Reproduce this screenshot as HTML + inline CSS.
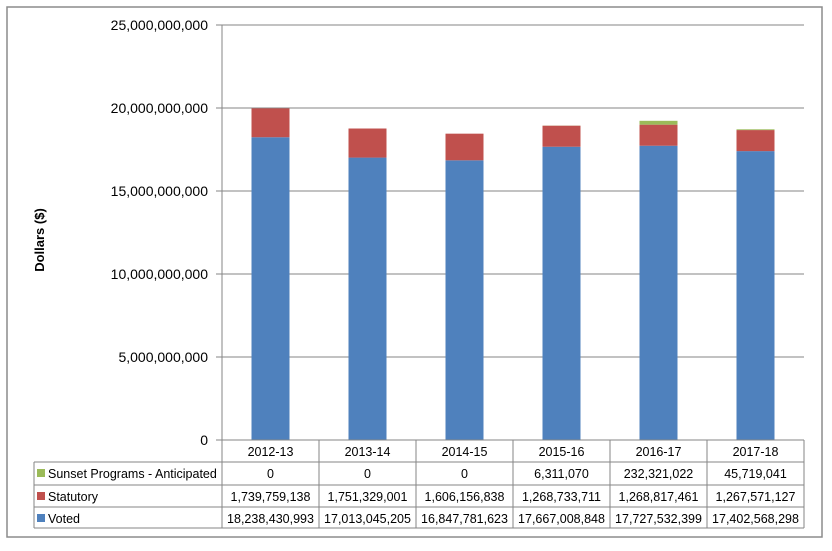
<!DOCTYPE html>
<html><head><meta charset="utf-8"><style>
body{margin:0;background:#fff;}
svg text{font-family:"Liberation Sans",sans-serif;}
</style></head><body>
<svg id="c" width="832" height="546" xmlns="http://www.w3.org/2000/svg">
<rect x="7" y="7" width="815" height="530" fill="#fff" stroke="#8c8c8c" stroke-width="1.5"/>
<text transform="translate(44,240) rotate(-90)" text-anchor="middle" font-size="13" font-weight="bold">Dollars ($)</text>
<g id="grid"></g><g id="bars"></g><g id="tbl"></g>
</svg>
<script>
const categories=["2012-13","2013-14","2014-15","2015-16","2016-17","2017-18"];
const sunset=[0,0,0,6311070,232321022,45719041];
const statutory=[1739759138,1751329001,1606156838,1268733711,1268817461,1267571127];
const voted=[18238430993,17013045205,16847781623,17667008848,17727532399,17402568298];
const yTicks=[0,5000000000,10000000000,15000000000,20000000000,25000000000];
const seriesNames=["Sunset Programs - Anticipated","Statutory","Voted"];
const colors=["#9bbb59","#c0504d","#4f81bd"];
const NS="http://www.w3.org/2000/svg";
const x0=222,x1=804,yTop=25,yBot=440,yMax=25000000000;
const colW=(x1-x0)/categories.length;
const y=v=>yBot-(v/yMax)*(yBot-yTop);
const xc=i=>x0+colW*(i+0.5);
const fmt=n=>n.toLocaleString("en-US");
const FS=12.5;
function mk(tag,attrs,parent){const e=document.createElementNS(NS,tag);for(const k in attrs)e.setAttribute(k,attrs[k]);parent.appendChild(e);return e;}
const grid=document.getElementById("grid"),bars=document.getElementById("bars"),tbl=document.getElementById("tbl");
yTicks.forEach(t=>{
  const l=mk("line",{x1:x0-6,x2:x1,y1:y(t),y2:y(t),stroke:"#868686","stroke-width":1},grid);
  
  
  const tx=mk("text",{x:x0-14,y:y(t)+5,"text-anchor":"end","font-size":14},grid);
  tx.textContent=fmt(t);
  
  
});
const ax=mk("line",{x1:x0,x2:x0,y1:yTop,y2:yBot,stroke:"#868686"},grid);


const bw=38;
categories.forEach((c,i)=>{
  const segs=[voted[i],statutory[i],sunset[i]];const cols=[colors[2],colors[1],colors[0]];const nm=["bar-voted","bar-statutory","bar-sunset"];
  let base=0;
  segs.forEach((v,j)=>{
    const r=mk("rect",{x:xc(i)-bw/2,y:y(base+v),width:bw,height:y(base)-y(base+v),fill:cols[j]},bars);
    
    
    base+=v;
  });
});
const rowY=[440,462,485,507,528];
const tl=34;
const lines=[];
lines.push([x0,rowY[0],x1,rowY[0]]);
for(let r=1;r<5;r++)lines.push([tl,rowY[r],x1,rowY[r]]);
lines.push([tl,rowY[1],tl,rowY[4]]);
for(let k=0;k<=categories.length;k++)lines.push([x0+colW*k,rowY[0],x0+colW*k,rowY[4]]);
lines.forEach(a=>{const l=mk("line",{x1:a[0],y1:a[1],x2:a[2],y2:a[3],stroke:"#868686"},tbl);
  
  });
categories.forEach((c,i)=>{const t=mk("text",{x:xc(i),y:456,"text-anchor":"middle","font-size":FS},tbl);t.textContent=c;
  
  });
const rows=[sunset,statutory,voted];
rows.forEach((row,r)=>{
  const cy=rowY[r+1]+16;
  const sw=mk("rect",{x:37,y:cy-9,width:8,height:8,fill:colors[r]},tbl);
  
  
  const lb=mk("text",{x:48,y:cy,"font-size":FS},tbl);lb.textContent=seriesNames[r];
  
  
  row.forEach((v,i)=>{const t=mk("text",{x:xc(i),y:cy,"text-anchor":"middle","font-size":FS},tbl);t.textContent=fmt(v);
    
    });
});
</script>
</body></html>
